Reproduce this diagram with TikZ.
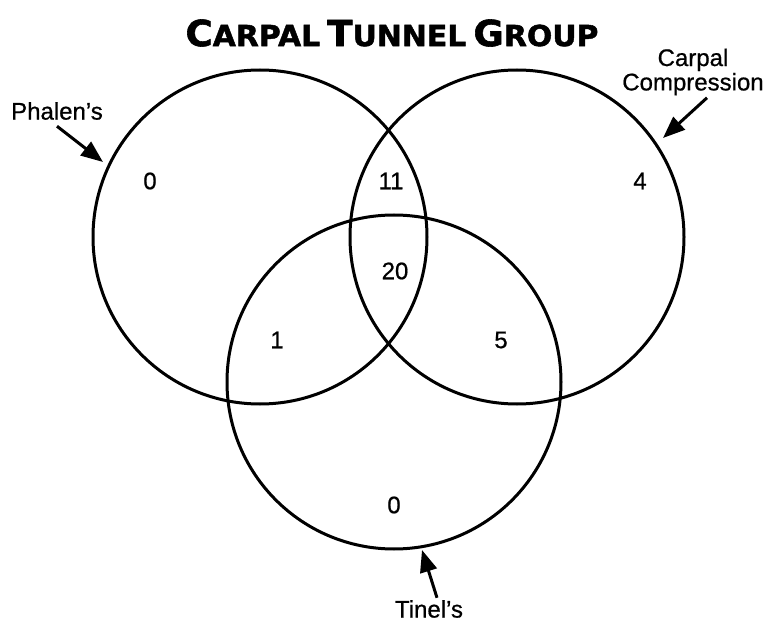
\documentclass[tikz,border=0pt]{standalone}
\usepackage{fontspec}
\usepackage{graphicx}
\setmainfont{Liberation Sans}[FakeBold=0.7]
\newfontfamily\titlefont{DejaVu Sans}[BoldFeatures={FakeBold=1.6}]
\usetikzlibrary{arrows.meta,positioning}

\newcommand{\tsc}[2]{{\fontsize{18}{18}\selectfont #1}{\fontsize{14.5}{18}\selectfont #2}}

\begin{document}
\begin{tikzpicture}[x=0.5pt, y=-0.5pt,
  test/.style={circle, draw, line width=1.5pt, minimum size=167pt, inner sep=0pt},
  pointer/.style={-{Triangle[length=11pt,width=8.5pt]}, line width=1.5pt},
  count/.style={font=\fontsize{12}{12}\selectfont, inner sep=1pt},
  tag/.style={font=\fontsize{12}{10}\selectfont, align=center, inner sep=1pt}]

  \useasboundingbox (0,0) rectangle (767,626);

  \node (title) at (392,33) {\titlefont\bfseries\scalebox{1.03}[1]{\tsc{C}{ARPAL} \tsc{T}{UNNEL} \tsc{G}{ROUP}}};

  \node[test] (phalen) at (260,237) {};
  \node[test] (compression) at (517,237) {};
  \node[test] (tinel) at (394,382) {};

  \node[count] (onlyP) at (150,181) {0};
  \node[count] (PC)    at (391,181) {11};
  \node[count] (onlyC) at (640,181) {4};
  \node[count] (PCT)   at (395,271) {20};
  \node[count] (PT)    at (277,340) {1};
  \node[count] (CT)    at (501,340) {5};
  \node[count] (onlyT) at (394,505) {0};

  \node[tag] (phalenlbl) at (57,111) {Phalen's};
  \node[tag] (carpallbl) at (693,72) {Carpal\\Compression};
  \node[tag] (tinellbl)  at (429,609) {Tinel's};

  \coordinate (phalentip) at (103,162);
  \coordinate (carpaltip) at (663,138);
  \coordinate (tineltip)  at (422,550);

  \draw[pointer] ([yshift=-2pt]phalenlbl.south) -- (phalentip);
  \draw[pointer] ([xshift=7pt]carpallbl.south) -- (carpaltip);
  \draw[pointer] ([xshift=4pt]tinellbl.north) -- (tineltip);

\end{tikzpicture}
\end{document}
